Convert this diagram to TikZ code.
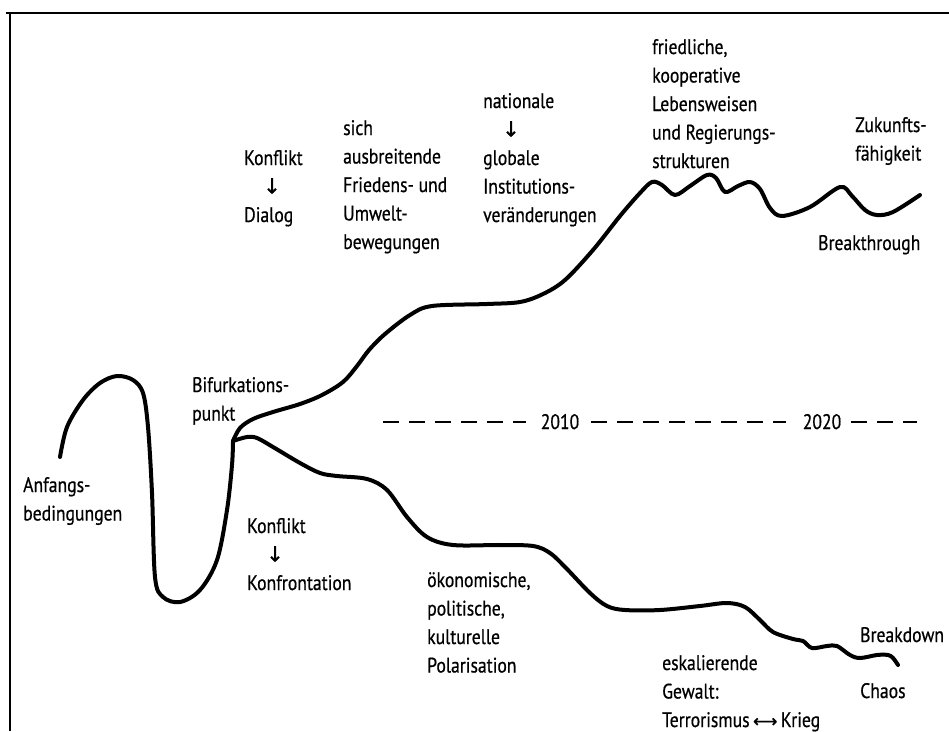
\documentclass[tikz,border=0pt]{standalone}
\usepackage{fontspec}
\setmainfont{PT Sans}[FakeStretch=0.84, FakeBold=0.6]
\newfontfamily\symfont{DejaVu Sans}[FakeBold=1.2]
\newcommand{\blk}[1]{\begin{tabular}[t]{@{}l@{}}#1\end{tabular}}
\newcommand{\dn}{\hspace*{19pt}{\symfont\fontsize{21}{21}\selectfont ↓}}
\tikzset{
  lbl/.style={inner sep=0pt, anchor=base west, font=\fontsize{21}{28.5}\selectfont},
  yr/.style={inner sep=0pt, anchor=base, font=\fontsize{21}{28.5}\selectfont},
  curve/.style={line width=4pt, line cap=round, line join=round},
  tl/.style={line width=1.5pt, dash pattern=on 16pt off 10pt},
  frame/.style={line width=2.5pt}
}
\begin{document}
\begin{tikzpicture}[x=1pt,y=-1pt]
\useasboundingbox (0,0) rectangle (949,731);
\fill[white] (0,0) rectangle (949,731);
% frame
\coordinate (fa) at (6,13);
\coordinate (fb) at (949,13);
\coordinate (fc) at (10,13);
\coordinate (fd) at (10,731);
\draw[frame] (fa) -- (fb);
\draw[frame] (fc) -- (fd);

% main curve up to bifurcation
\draw[curve] plot[smooth, tension=0.55] coordinates {
 (60,457) (67,427) (83,400) (100,383) (117,376) (133,380) (143,393) (148,427)
 (152,493) (155,577) (163,597) (180,602) (200,590) (217,560) (227,510) (232,465) (233,441)};
% upper branch
\draw[curve] plot[smooth, tension=0.55] coordinates {
 (233,441) (240,428) (253,419) (273,412) (300,404) (322,395) (343,382) (357,366)
 (369,350) (385,334) (410,315) (432,306) (487,304) (520,302) (543,294) (565,280)
 (593,250) (620,216) (640,193) (652,182) (662,185) (675,195) (690,186) (707,175)
 (716,178) (725,192) (738,186) (750,182) (760,189) (770,208) (782,216) (810,207)
 (840,187) (852,196) (865,210) (877,215) (893,212) (920,195)};
% lower branch
\draw[curve] plot[smooth, tension=0.55] coordinates {
 (233,441) (247,437) (257,438) (273,447) (300,463) (320,473) (337,476) (367,479)
 (387,490) (407,517) (427,537) (453,545) (500,545) (533,546) (550,553) (566,568)
 (590,593) (607,606) (625,610) (660,610) (700,606) (727,603) (745,607) (760,620)
 (773,632) (793,639) (803,641) (812,648) (827,646) (837,646) (850,655) (860,658)
 (877,655) (888,655) (893,658) (898,665)};

% time line
\node[yr] (y2010) at (560,429) {2010};
\node[yr] (y2020) at (822,429) {2020};
\coordinate (t0) at (383,422);
\coordinate (t1) at (526,422);
\coordinate (t2) at (591,422);
\coordinate (t3) at (786,422);
\coordinate (t4) at (851,422);
\coordinate (t5) at (917,422);
\draw[tl] (t0) -- (t1);
\draw[tl] (t2) -- (t3);
\draw[tl] (t4) -- (t5);

% labels
\node[lbl] (anf) at (23,492) {\blk{Anfangs-\\bedingungen}};
\node[lbl] (bif) at (192,392) {\blk{Bifurkations-\\punkt}};
\node[lbl] (kd) at (244,165) {\blk{Konflikt\\\dn\\Dialog}};
\node[lbl] (sich) at (343,135) {\blk{sich\\ausbreitende\\Friedens- und\\Umwelt-\\bewegungen}};
\node[lbl] (nat) at (483,108) {\blk{nationale\\\dn\\globale\\Institutions-\\veränderungen}};
\node[lbl] (fried) at (652,54) {\blk{friedliche,\\kooperative\\Lebensweisen\\und Regierungs-\\strukturen}};
\node[lbl] (zuk) at (855,132) {\blk{Zukunfts-\\fähigkeit}};
\node[lbl] (bt) at (818,250) {Breakthrough};
\node[lbl] (kk) at (247,533) {\blk{Konflikt\\\dn\\Konfrontation}};
\node[lbl] (oek) at (427,587) {\blk{ökonomische,\\politische,\\kulturelle\\Polarisation}};
\node[lbl] (esk) at (662,670) {\blk{eskalierende\\Gewalt:\\Terrorismus\,{\symfont\fontsize{17}{17}\selectfont ⟷}\,Krieg}};
\node[lbl] (bd) at (860,642) {Breakdown};
\node[lbl] (ch) at (860,698) {Chaos};
\end{tikzpicture}
\end{document}
